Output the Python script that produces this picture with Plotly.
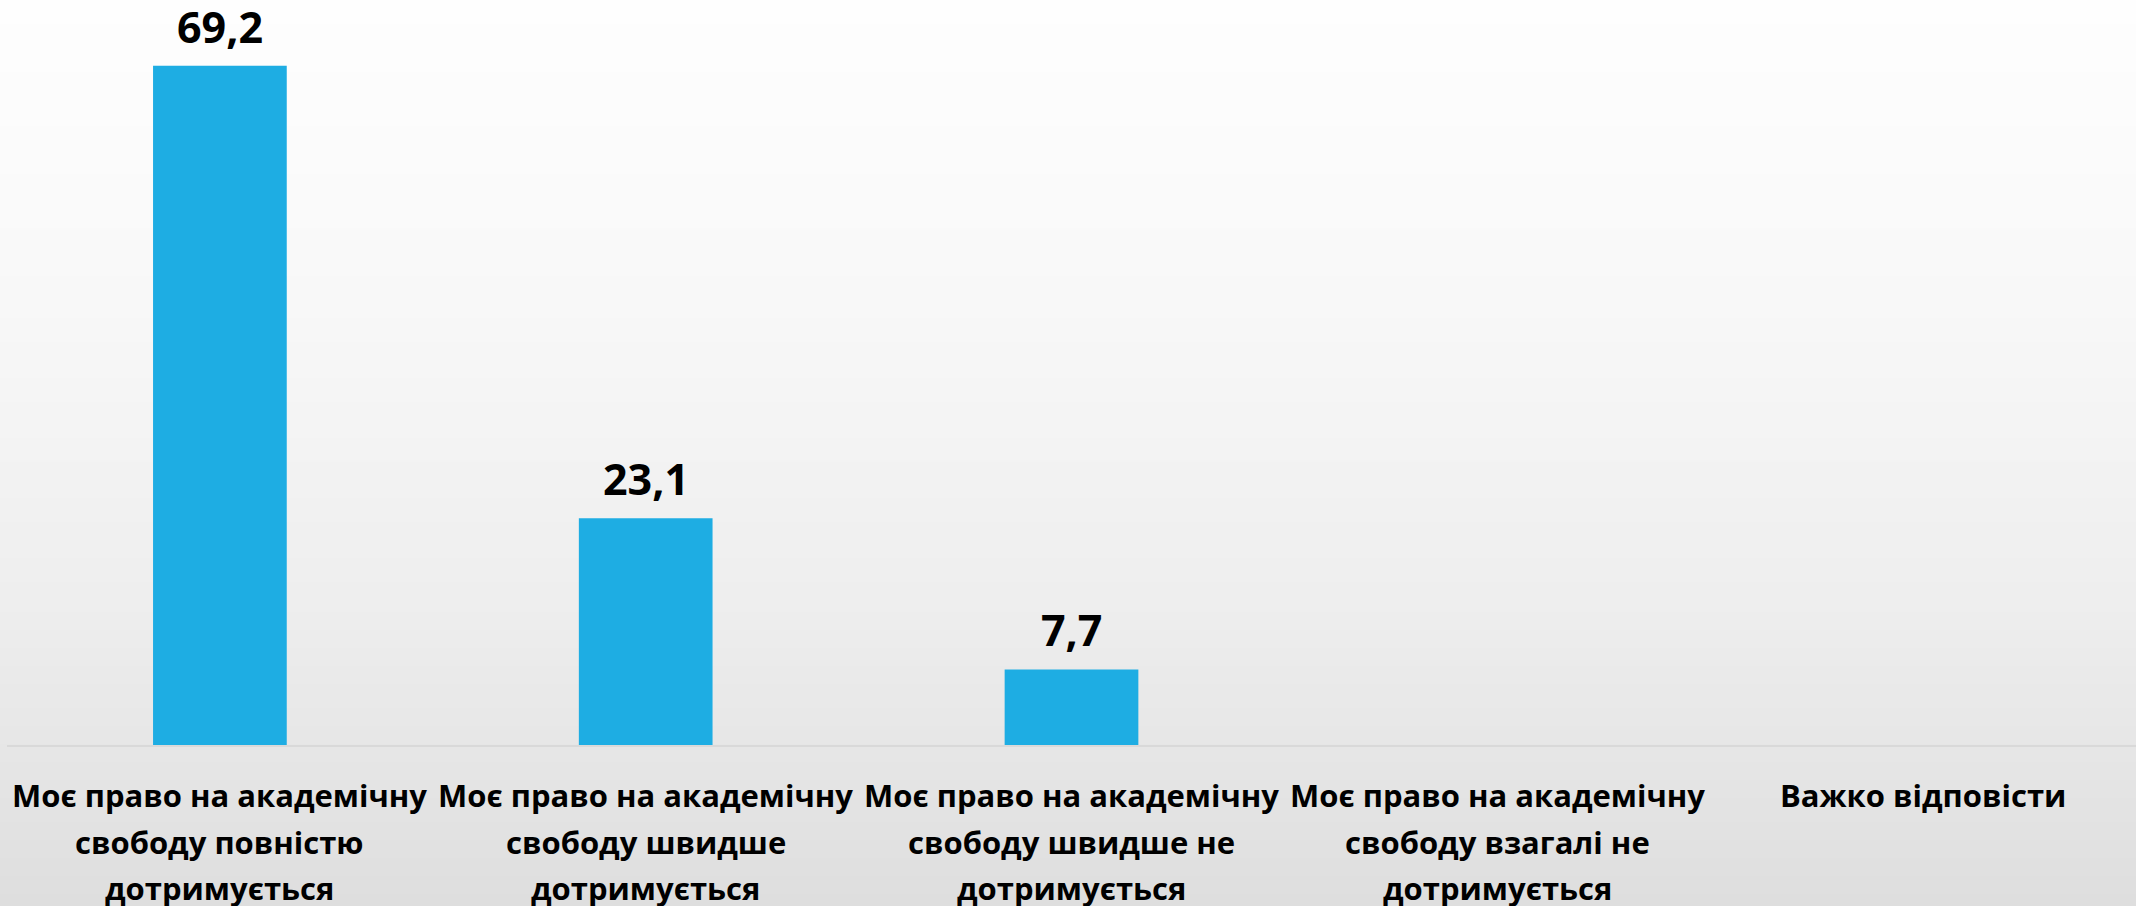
import plotly.graph_objects as go

# ---- data ----
categories = ["c1", "c2", "c3", "c4", "c5"]
label_lines = [
    ["Моє право на академічну", "свободу повністю", "дотримується"],
    ["Моє право на академічну", "свободу швидше", "дотримується"],
    ["Моє право на академічну", "свободу швидше не", "дотримується"],
    ["Моє право на академічну", "свободу взагалі не", "дотримується"],
    ["Важко відповісти"],
]
values = [69.2, 23.1, 7.7, None, None]

# ---- layout constants ----
W, H = 2136, 906
ML, MR, MT, MB = 7, 0, 0, 161
PW, PH = W - ML - MR, H - MT - MB
BAR = "#1EADE3"
FONT = "Open Sans"

fig = go.Figure()
fig.add_trace(go.Bar(
    x=categories, y=values, marker=dict(color=BAR, line=dict(width=0)),
    width=0.314, hoverinfo="skip",
))

# value labels
for c, v in zip(categories, values):
    if v is None:
        continue
    fig.add_annotation(
        x=c, y=v, xref="x", yref="y", text=f"{v:.1f}".replace(".", ","),
        showarrow=False, yanchor="bottom", yshift=8,
        font=dict(family=FONT, size=43, color="#000000", weight="bold"),
    )

# category labels, line by line
line_offsets = [-50, -97, -143]
for c, lines in zip(categories, label_lines):
    for i, t in enumerate(lines):
        fig.add_annotation(
            x=c, y=0, xref="x", yref="paper", text=t, showarrow=False,
            yanchor="middle", yshift=line_offsets[i],
            font=dict(family=FONT, size=31, color="#000000", weight="bold"),
        )

# vertical grey gradient background
anchors = [(0, 254), (300, 248), (600, 238), (906, 222)]
def grey(py):
    for (y0, g0), (y1, g1) in zip(anchors[:-1], anchors[1:]):
        if py <= y1:
            g = g0 + (g1 - g0) * (py - y0) / (y1 - y0)
            return int(round(g))
    return anchors[-1][1]

shapes = []
step = 6
for py in range(0, H, step):
    g = grey(py + step / 2)
    shapes.append(dict(
        type="rect", xref="paper", yref="paper", layer="below",
        x0=(0 - ML) / PW, x1=(W - ML + 2) / PW,
        y0=(H - MB - (py + step + 1)) / PH, y1=(H - MB - py) / PH,
        fillcolor=f"rgb({g},{g},{g})", line=dict(width=0),
    ))

fig.update_layout(
    width=W, height=H,
    margin=dict(l=ML, r=MR, t=MT, b=MB, pad=0),
    paper_bgcolor="#ffffff", plot_bgcolor="rgba(0,0,0,0)",
    showlegend=False, shapes=shapes,
)
fig.update_xaxes(
    range=[-0.5, 4.5], showticklabels=False, showgrid=False, zeroline=False,
    showline=True, linecolor="#d9d9d9", linewidth=2, ticks="",
    fixedrange=True,
)
fig.update_yaxes(
    range=[0, 75.9], visible=False, showgrid=False, zeroline=False,
    fixedrange=True,
)

fig.write_html(
    "out.html", config={"displayModeBar": False},
    post_script="document.body.style.margin='0';document.body.style.overflow='hidden';",
)
